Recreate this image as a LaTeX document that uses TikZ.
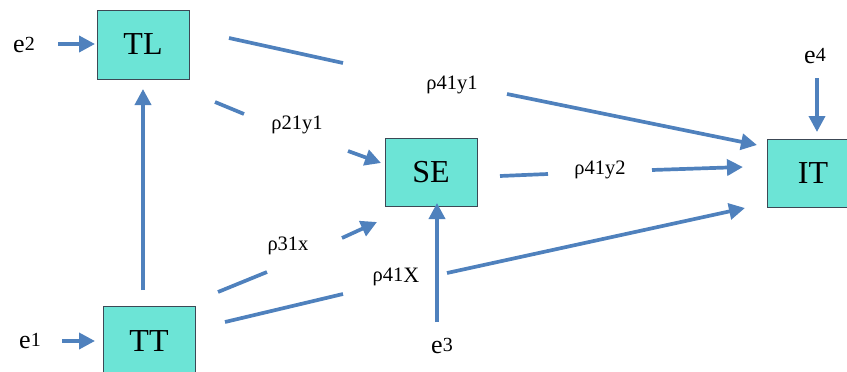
\documentclass[tikz,border=0pt]{standalone}
\usepackage{fontspec}
\setmainfont{Liberation Serif}
\usetikzlibrary{arrows.meta}
\definecolor{lineblue}{RGB}{79,129,189}
\definecolor{boxfill}{RGB}{108,228,214}
\definecolor{boxdraw}{RGB}{60,72,85}
\newcommand{\elab}[1]{{\fontsize{26}{30}\selectfont e\raisebox{1.5pt}{\fontsize{20}{24}\selectfont #1}}}
\begin{document}
\begin{tikzpicture}[x=1pt,y=-1pt,
  box/.style={draw=boxdraw,line width=0.9pt,fill=boxfill,minimum width=92pt,minimum height=69pt,inner sep=0pt,font=\fontsize{32}{36}\selectfont},
  conn/.style={draw=lineblue,line width=3.7pt},
  arr/.style={conn,-{Triangle[length=16pt,width=16pt]}},
  coef/.style={inner sep=0pt,anchor=base,font=\fontsize{20.5}{24}\selectfont},
  elabel/.style={inner sep=0pt,anchor=base}]
\useasboundingbox (0,0) rectangle (847,372);
% boxes
\node[box] (TL) at (143,44.5) {TL};
\node[box,minimum height=68pt] (SE) at (431,172) {SE};
\node[box,minimum height=68pt] (IT) at (813,173) {IT};
\node[box,minimum height=70pt] (TT) at (149,341) {TT};
% error labels
\node[elabel] (e2) at (24,52) {\elab{2}};
\node[elabel] (e1) at (30,348) {\elab{1}};
\node[elabel] (e3) at (442,353) {\elab{3}};
\node[elabel] (e4) at (815,63) {\elab{4}};
% coefficient labels
\node[coef] (p41y1) at (452,89) {ρ41y1};
\node[coef] (p21y1) at (297,129) {ρ21y1};
\node[coef] (p41y2) at (600,174) {ρ41y2};
\node[coef] (p31x) at (288,250) {ρ31x};
\node[coef] (p41X) at (396,281) {ρ41\raisebox{-1pt}{\fontsize{22}{26}\selectfont X}};
% connector end points
\coordinate (e2s) at (58,44);   \coordinate (e2t) at (95,44);
\coordinate (e1s) at (62,341);  \coordinate (e1t) at (95,341);
\coordinate (e3s) at (437,322); \coordinate (e3t) at (437,203);
\coordinate (e4s) at (817,78);  \coordinate (e4t) at (817,132);
\coordinate (TTup) at (143,290); \coordinate (TLlow) at (143,89);
\coordinate (a1) at (229,38);  \coordinate (a2) at (343,63);
\coordinate (a3) at (507,94);  \coordinate (a4) at (757,145);
\coordinate (b1) at (215,102); \coordinate (b2) at (244,114);
\coordinate (b3) at (348,151); \coordinate (b4) at (381,163);
\coordinate (c1) at (500,176); \coordinate (c2) at (548,174);
\coordinate (c3) at (652,170); \coordinate (c4) at (743,167);
\coordinate (d1) at (218,292); \coordinate (d2) at (267,272);
\coordinate (d3) at (342,238); \coordinate (d4) at (377,222);
\coordinate (f1) at (225,322); \coordinate (f2) at (343,294);
\coordinate (f3) at (447,273); \coordinate (f4) at (745,208);
% connectors
\draw[arr] (e2s) -- (e2t);
\draw[arr] (e1s) -- (e1t);
\draw[arr] (e3s) -- (e3t);
\draw[arr] (e4s) -- (e4t);
\draw[arr] (TTup) -- (TLlow);
\draw[conn] (a1) -- (a2); \draw[arr] (a3) -- (a4);
\draw[conn] (b1) -- (b2); \draw[arr] (b3) -- (b4);
\draw[conn] (c1) -- (c2); \draw[arr] (c3) -- (c4);
\draw[conn] (d1) -- (d2); \draw[arr] (d3) -- (d4);
\draw[conn] (f1) -- (f2); \draw[arr] (f3) -- (f4);
\end{tikzpicture}
\end{document}
